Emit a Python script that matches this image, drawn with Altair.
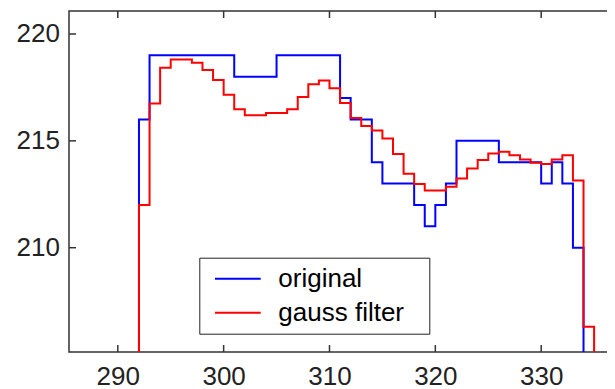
import altair as alt
import pandas as pd

# ---- data (stairs: value holds from x[i] to x[i+1]) ----
x_orig = [291, 292, 293, 294, 295, 296, 297, 298, 299, 300,
          301, 302, 303, 304, 305, 306, 307, 308, 309, 310,
          311, 312, 313, 314, 315, 316, 317, 318, 319, 320,
          321, 322, 323, 324, 325, 326, 327, 328, 329, 330,
          331, 332, 333, 334, 335]
y_orig = [0, 216, 219, 219, 219, 219, 219, 219, 219, 219,
          218, 218, 218, 218, 219, 219, 219, 219, 219, 219,
          217, 216, 216, 214, 213, 213, 213, 212, 211, 212,
          213, 215, 215, 215, 215, 214, 214, 214, 214, 213,
          214, 213, 210, 0, 0]

x_gauss = [291, 292, 293, 294, 295, 296, 297, 298, 299, 300,
           301, 302, 303, 304, 305, 306, 307, 308, 309, 310,
           311, 312, 313, 314, 315, 316, 317, 318, 319, 320,
           321, 322, 323, 324, 325, 326, 327, 328, 329, 330,
           331, 332, 333, 334, 335, 336]
y_gauss = [0, 212.0, 216.75, 218.42, 218.81, 218.81, 218.65, 218.31, 217.85, 217.16,
           216.48, 216.2, 216.2, 216.3, 216.3, 216.48, 217.05, 217.65, 217.82, 217.46,
           216.77, 216.07, 215.69, 215.48, 215.11, 214.38, 213.46, 212.98, 212.68, 212.68,
           212.85, 213.24, 213.71, 214.1, 214.41, 214.49, 214.33, 214.13, 213.98, 213.92,
           214.13, 214.33, 213.15, 206.3, 0, 0]

series_names = ["original", "gauss filter"]
series_colors = ["#0000ff", "#ff0000"]
x_ticks = [290, 300, 310, 320, 330]
y_ticks = [210, 215, 220]

x_domain = [285.39, 336.88]
y_domain = [205.12, 221.076]

W = 545
H = 341
TICK = 7
FONT = "Liberation Sans"

df_orig = pd.DataFrame({"x": x_orig, "y": y_orig, "series": series_names[0]})
df_gauss = pd.DataFrame({"x": x_gauss, "y": y_gauss, "series": series_names[1]})
df_xt = pd.DataFrame({"x": x_ticks})
df_yt = pd.DataFrame({"y": y_ticks})

xs = alt.Scale(domain=x_domain, nice=False, zero=False)
ys = alt.Scale(domain=y_domain, nice=False, zero=False)
x_axis = alt.Axis(values=x_ticks, title=None, labelPadding=11)
y_axis = alt.Axis(values=y_ticks, title=None, labelPadding=9.5)

legend = alt.Legend(
    title=None, orient="none", legendX=130.3, legendY=246.7,
    # short horizontal stroke; the trailing move-to widens the legend box
    symbolType="M-0.53,0H4.04M19.7,0", symbolSize=400, symbolStrokeWidth=2,
    labelFont=FONT, labelFontSize=26, labelColor="#000", labelOffset=45,
    padding=8, rowPadding=8, strokeColor="#222", fillColor="white",
)
color = alt.Color("series:N",
                  scale=alt.Scale(domain=series_names, range=series_colors),
                  legend=legend)

x_enc = alt.X("x:Q", scale=xs, axis=x_axis)
y_enc = alt.Y("y:Q", scale=ys, axis=y_axis)

line_orig = alt.Chart(df_orig).mark_line(interpolate="step-after", strokeWidth=2, clip=True).encode(
    x=x_enc, y=y_enc, color=color)
line_gauss = alt.Chart(df_gauss).mark_line(interpolate="step-after", strokeWidth=2, clip=True).encode(
    x=x_enc, y=y_enc, color=color)

tick_style = dict(color="#333", strokeWidth=1.5)
top_ticks = alt.Chart(df_xt).mark_rule(**tick_style).encode(
    x=x_enc, y=alt.value(0), y2=alt.value(TICK))
bottom_ticks = alt.Chart(df_xt).mark_rule(**tick_style).encode(
    x=x_enc, y=alt.value(H - TICK), y2=alt.value(H))
left_ticks = alt.Chart(df_yt).mark_rule(**tick_style).encode(
    y=y_enc, x=alt.value(0), x2=alt.value(TICK))
right_ticks = alt.Chart(df_yt).mark_rule(**tick_style).encode(
    y=y_enc, x=alt.value(W - TICK), x2=alt.value(W))

chart = alt.layer(line_orig, line_gauss, top_ticks, bottom_ticks, left_ticks, right_ticks).properties(
    width=W, height=H,
    padding={"left": 61, "top": 3, "right": -7, "bottom": 37},
    autosize=alt.AutoSizeParams(type="none"),
    background="white",
).configure_view(
    stroke="#333", strokeWidth=1.5
).configure_axis(
    labelFont=FONT, labelFontSize=26, labelColor="#222",
    domain=False, ticks=False, tickSize=0, grid=False,
)

chart.save("out.html", embed_options={"renderer": "svg", "actions": False})
